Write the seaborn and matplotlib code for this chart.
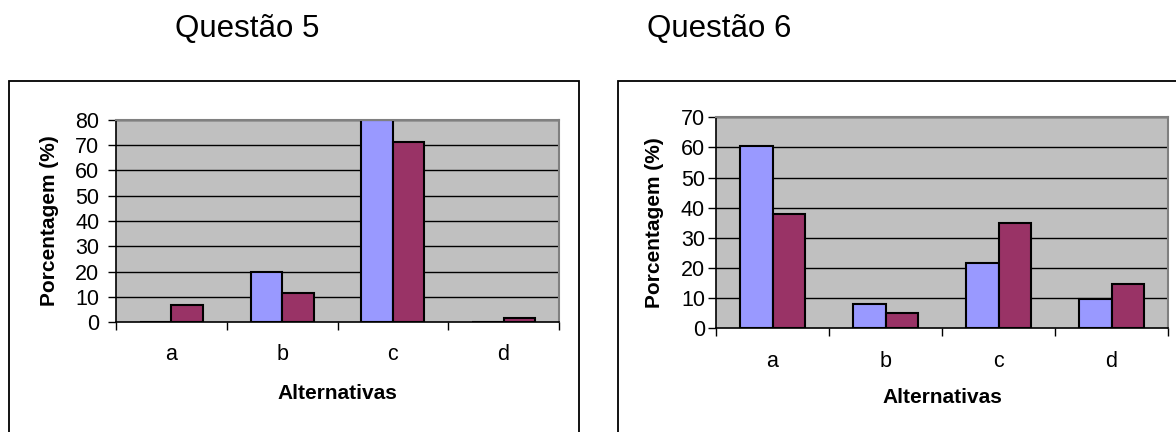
import numpy as np
import pandas as pd
import matplotlib
matplotlib.use("Agg")
import matplotlib.pyplot as plt
from matplotlib.patches import Rectangle
from matplotlib.ticker import FixedLocator
import seaborn as sns

# Answer shares (%) per alternative, two groups of respondents
alternativas = ["a", "b", "c", "d"]
series_names = ["Série 1", "Série 2"]

q5_serie1 = [0.0, 20.0, 80.0, 0.0]
q5_serie2 = [6.9, 11.5, 71.4, 1.5]

q6_serie1 = [60.6, 8.0, 21.5, 9.7]
q6_serie2 = [37.9, 5.0, 35.0, 14.7]

titles = ["Questão 5", "Questão 6"]
y_max = [80, 70]
xlabel = "Alternativas"
ylabel = "Porcentagem (%)"

sns.set_theme(style="white")
plt.rcParams["font.family"] = ["Liberation Sans", "DejaVu Sans"]

BLUE = "#9999FF"
MAROON = "#993366"
PLOT_BG = "#C0C0C0"

W, H = 1176, 432
fig = plt.figure(figsize=(W / 100, H / 100), dpi=100)
fig.patch.set_facecolor("white")


def long_frame(s1, s2):
    return pd.DataFrame({
        "alternativa": alternativas * 2,
        "serie": [series_names[0]] * len(s1) + [series_names[1]] * len(s2),
        "pct": list(s1) + list(s2),
    })


def px_rect(x0, y0, x1, y1):
    """Figure-fraction rect [left, bottom, width, height] from pixel box."""
    return [x0 / W, 1 - y1 / H, (x1 - x0) / W, (y1 - y0) / H]


# Chart frames (extend past the lower / right edge of the figure)
frames = [(8.5, 81, 578.5, 470), (617.5, 81, 1200, 470)]
for (x0, y0, x1, y1) in frames:
    fig.add_artist(Rectangle((x0 / W, 1 - y1 / H), (x1 - x0) / W, (y1 - y0) / H,
                             transform=fig.transFigure, facecolor="none",
                             edgecolor="black", linewidth=1.3, zorder=0))

plot_boxes = [(116, 120, 559, 322), (716, 117.3, 1168, 328.3)]
ylabel_x = [-0.149, -0.135]
xlabel_y = [-0.352, -0.326]
title_x = [247.5, 719]

datasets = [(q5_serie1, q5_serie2), (q6_serie1, q6_serie2)]

for i, ((s1, s2), box) in enumerate(zip(datasets, plot_boxes)):
    ax = fig.add_axes(px_rect(*box))
    ax.set_facecolor(PLOT_BG)
    df = long_frame(s1, s2)
    sns.barplot(data=df, x="alternativa", y="pct", hue="serie",
                palette=[BLUE, MAROON], width=0.571, gap=0,
                edgecolor="black", linewidth=1.5, legend=False,
                saturation=1, ax=ax, zorder=3)

    n = len(alternativas)
    ax.set_xlim(-0.5, n - 0.5)
    ax.set_ylim(0, y_max[i])
    yt = np.arange(0, y_max[i] + 1, 10)
    ax.set_yticks(yt)
    ax.set_yticklabels([str(v) for v in yt])
    for v in yt[1:]:
        ax.axhline(v, color="black", linewidth=1.0, zorder=1)

    ax.set_xticks(range(n))
    ax.set_xticklabels(alternativas)
    ax.xaxis.set_minor_locator(FixedLocator(np.arange(n + 1) - 0.5))
    ax.tick_params(axis="x", which="major", length=0, pad=16, labelsize=15.5,
                   colors="black")
    ax.tick_params(axis="x", which="minor", length=6, width=1, direction="out",
                   color="black", bottom=True)
    ax.tick_params(axis="y", which="major", length=6, width=1, direction="out",
                   pad=6 if i == 0 else 2, labelsize=15.5, colors="black", left=True)

    for side in ["left", "bottom"]:
        ax.spines[side].set_color("black")
        ax.spines[side].set_linewidth(1.2)
    for side in ["top", "right"]:
        ax.spines[side].set_color("#808080")
        ax.spines[side].set_linewidth(1.5)
    for sp in ax.spines.values():
        sp.set_zorder(4)
        sp.set_visible(True)

    ax.set_xlabel(xlabel, fontsize=15, fontweight="bold", color="black")
    ax.set_ylabel(ylabel, fontsize=15, fontweight="bold", color="black")
    ax.xaxis.set_label_coords(0.5, xlabel_y[i])
    ax.xaxis.label.set_va("center")
    ax.yaxis.set_label_coords(ylabel_x[i], 0.5)
    ax.yaxis.label.set_va("center")

    fig.text(title_x[i] / W, 1 - 29 / H, titles[i], fontsize=22.5,
             ha="center", va="center", color="black")

fig.savefig("out.png", dpi=100, facecolor="white")
